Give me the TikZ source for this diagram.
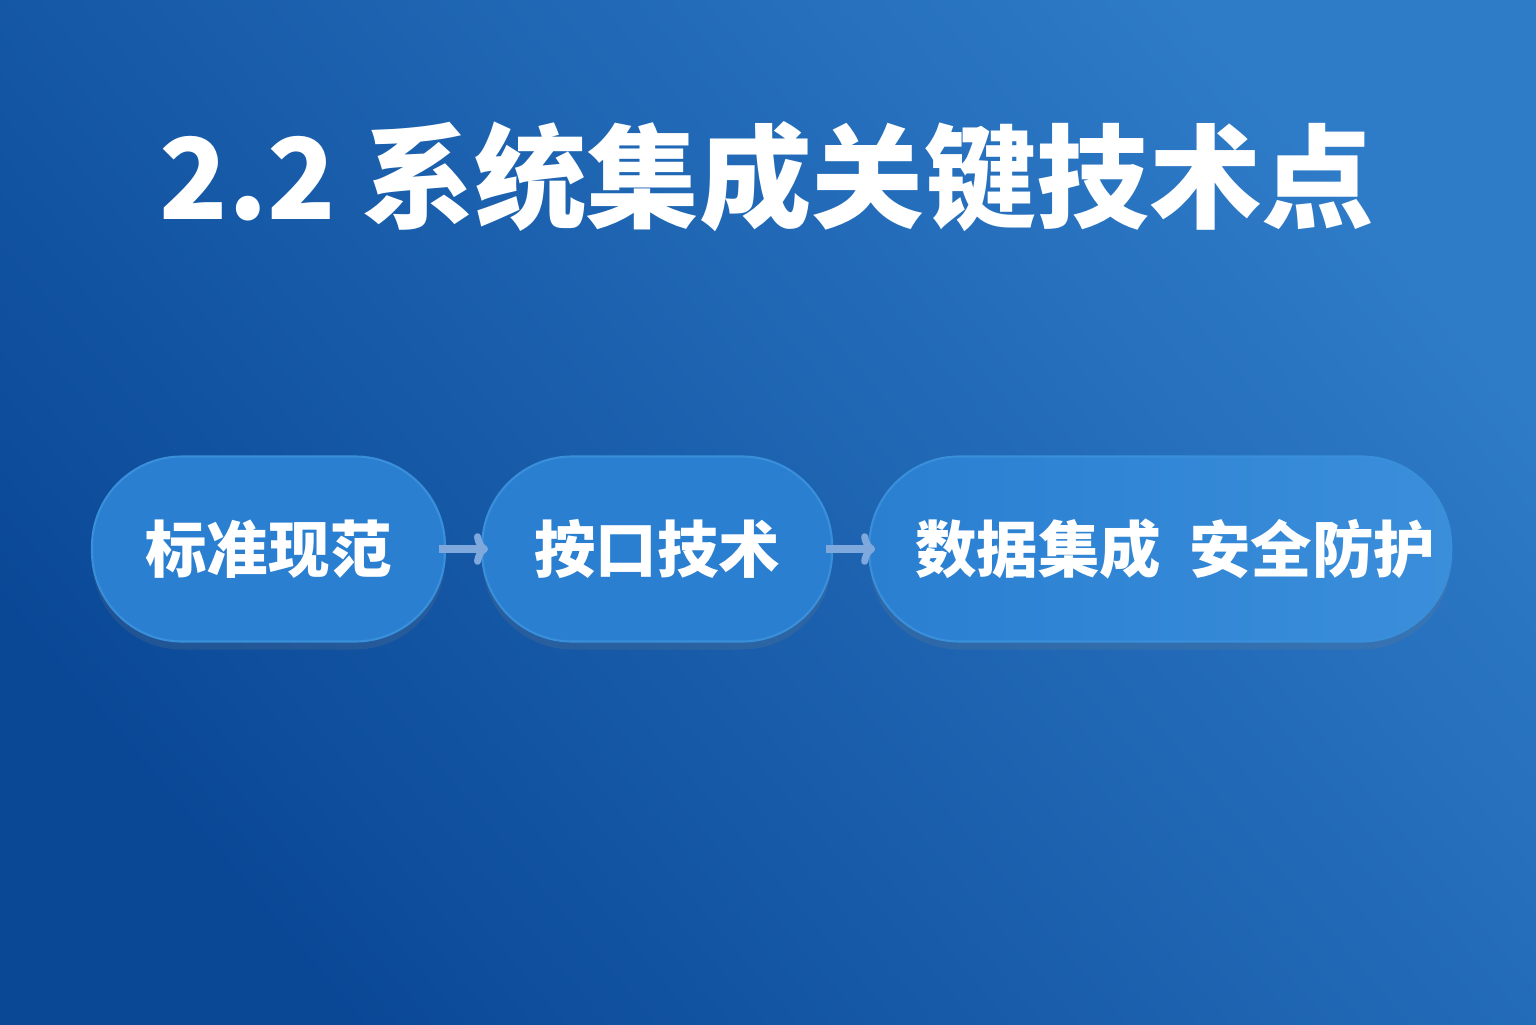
\documentclass[tikz,border=0pt]{standalone}
\usepackage{fontspec}
\setmainfont{Noto Sans CJK SC}
\usetikzlibrary{arrows,arrows.meta,positioning,shadows}
\tikzset{>={To[length=4pt,width=9pt]}}
\definecolor{bgdark}{HTML}{0A4896}
\definecolor{bglight}{HTML}{2E7BC8}
\definecolor{pillfill}{HTML}{2A7FD1}
\definecolor{pilllight}{HTML}{3A8EDA}
\definecolor{pillline}{HTML}{3A8FDB}
\definecolor{arrowcol}{HTML}{7FA8DC}
\tikzset{
  pill/.style={rectangle, rounded corners=0.9cm, minimum height=1.85cm,
    draw=pillline, line width=0.6pt, fill=pillfill, text=white,
    font=\fontsize{17.5pt}{20pt}\selectfont\bfseries,
    drop shadow={opacity=0.18, shadow xshift=0pt, shadow yshift=-0.08cm}},
  flow/.style={->, color=arrowcol, line width=2pt, shorten <=-2pt, shorten >=-2pt}
}

\begin{document}
\begin{tikzpicture}[node distance=0.35cm]
    \shade[shading=axis, bottom color=bgdark, top color=bglight, shading angle=-50]
      (0,0) rectangle (15.36,10.24);
    \useasboundingbox (0,0) rectangle (15.36,10.24);

    \node (title) [text=white, font=\fontsize{32pt}{36pt}\selectfont\bfseries]
      at (7.67,8.47) {2.2 系统集成关键技术点};

    \node (a1) [pill, minimum width=3.53cm] at (2.685,4.75) {标准现范};
    \node (a2) [pill, minimum width=3.50cm, right=of a1] {按口技术};
    \node (a3) [pill, minimum width=5.82cm, right=of a2,
      left color=pillfill, right color=pilllight] {\hspace{0.3cm}数据集成\ \ 安全防护};

    \draw[flow] (a1) -- (a2);
    \draw[flow] (a2) -- (a3);
  \end{tikzpicture}
\end{document}
